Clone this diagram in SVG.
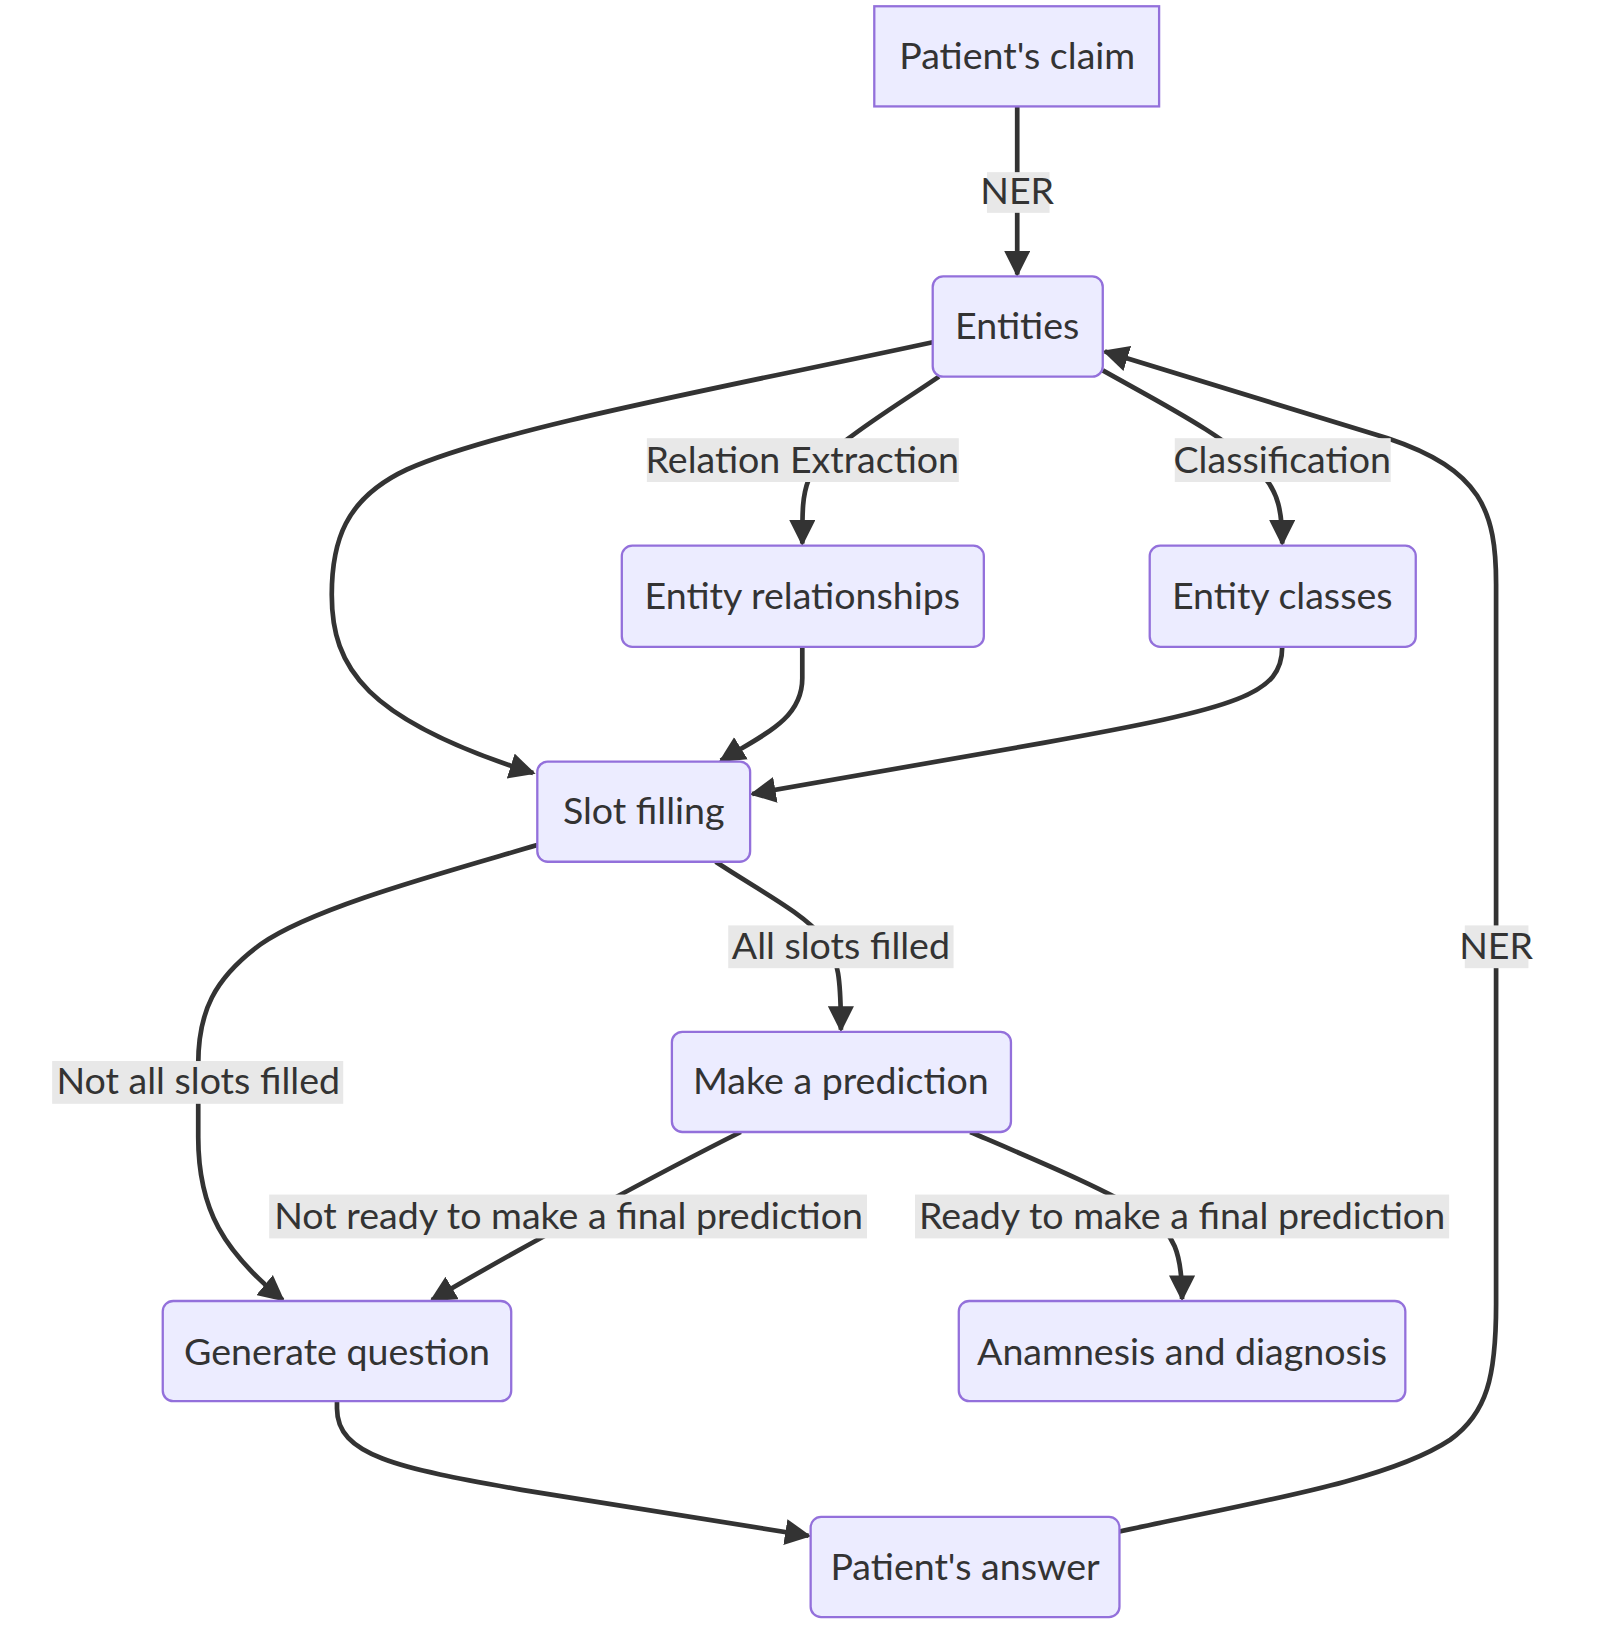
<svg xmlns="http://www.w3.org/2000/svg" width="1618" height="1636" viewBox="0 0 1618 1636">
<style>
.node rect{fill:#ECECFF;stroke:#9370DB;stroke-width:2.2}
.node text,.lbl text{font-family:Lato,"Open Sans","DejaVu Sans",sans-serif;font-size:36px;fill:#333333;text-anchor:middle}
.edges path{fill:none;stroke:#333333;stroke-width:4.5}
.lbl rect{fill:#e8e8e8}
</style>
<defs>
<marker id="arr" viewBox="0 0 10 10" refX="9" refY="5" markerUnits="userSpaceOnUse" markerWidth="25" markerHeight="25" orient="auto">
<path d="M0,0 L10,5 L0,10 z" fill="#333333"/>
</marker>
</defs>
<rect width="1618" height="1636" fill="#ffffff"/>
<g transform="scale(1.0433)">
<g class="edges" id="edges">
<path marker-end="url(#arr)" d="M975,102 L975,263"/>
<path marker-end="url(#arr)" d="M894,328 C700,370 480,410 390,450 C330,478 318,520 318,570 C318,640 350,690 511,741"/>
<path marker-end="url(#arr)" d="M900,361 C850,395 790,430 775,460 C769,475 769,490 769,521"/>
<path marker-end="url(#arr)" d="M1057,355 C1110,385 1180,420 1210,455 C1225,472 1229,490 1229,521"/>
<path marker-end="url(#arr)" d="M769,620 L769,650 C769,690 730,705 691,729"/>
<path marker-end="url(#arr)" d="M1229,620 C1229,665 1190,678 1000,712 L721,761"/>
<path marker-end="url(#arr)" d="M686,826 C730,855 770,875 790,900 C804,918 806,940 806,987"/>
<path marker-end="url(#arr)" d="M515,810 C420,838 300,870 250,905 C205,938 190,970 190,1020 L190,1090 C190,1160 215,1200 271,1246"/>
<path marker-end="url(#arr)" d="M710,1085 C640,1120 500,1195 414,1246"/>
<path marker-end="url(#arr)" d="M930,1085 C1000,1115 1060,1140 1100,1165 C1125,1182 1133,1200 1133,1245"/>
<path marker-end="url(#arr)" d="M323,1343 L323,1350 C323,1395 380,1407 500,1428 L775,1472"/>
<path marker-end="url(#arr)" d="M1073,1468 C1200,1440 1330,1420 1390,1380 C1425,1355 1434,1320 1434,1250 L1434,560 C1434,490 1420,450 1330,420 L1059,337"/>
</g>
<g class="lbl" id="labels">
<g id="l-ner1"><rect x="946" y="165" width="60" height="39"/><text x="975" y="196">NER</text></g>
<g id="l-rel"><rect x="620" y="420" width="299" height="42"/><text x="769" y="453">Relation Extraction</text></g>
<g id="l-cls"><rect x="1126" y="420" width="207" height="42"/><text x="1229" y="453">Classification</text></g>
<g id="l-all"><rect x="698" y="887" width="216" height="41"/><text x="806" y="919">All slots filled</text></g>
<g id="l-notall"><rect x="50" y="1017" width="279" height="41"/><text x="190" y="1049">Not all slots filled</text></g>
<g id="l-notready"><rect x="258" y="1145" width="573" height="42"/><text x="545" y="1178">Not ready to make a final prediction</text></g>
<g id="l-ready"><rect x="877" y="1145" width="512" height="42"/><text x="1133" y="1178">Ready to make a final prediction</text></g>
<g id="l-ner2"><rect x="1404" y="887" width="61" height="41"/><text x="1434" y="919">NER</text></g>
</g>
<g class="node" id="n-claim"><rect x="838" y="6" width="273" height="96"/><text x="975" y="66">Patient's claim</text></g>
<g class="node" id="n-entities"><rect x="894" y="265" width="163" height="96" rx="10"/><text x="975" y="325">Entities</text></g>
<g class="node" id="n-rel"><rect x="596" y="523" width="347" height="97" rx="10"/><text x="769" y="584">Entity relationships</text></g>
<g class="node" id="n-cls"><rect x="1102" y="523" width="255" height="97" rx="10"/><text x="1229" y="584">Entity classes</text></g>
<g class="node" id="n-slot"><rect x="515" y="730" width="204" height="96" rx="10"/><text x="617" y="790">Slot filling</text></g>
<g class="node" id="n-pred"><rect x="644" y="989" width="325" height="96" rx="10"/><text x="806" y="1049">Make a prediction</text></g>
<g class="node" id="n-gen"><rect x="156" y="1247" width="334" height="96" rx="10"/><text x="323" y="1308">Generate question</text></g>
<g class="node" id="n-ana"><rect x="919" y="1247" width="428" height="96" rx="10"/><text x="1133" y="1308">Anamnesis and diagnosis</text></g>
<g class="node" id="n-ans"><rect x="777" y="1454" width="296" height="96" rx="10"/><text x="925" y="1514">Patient's answer</text></g>
</g>
</svg>
